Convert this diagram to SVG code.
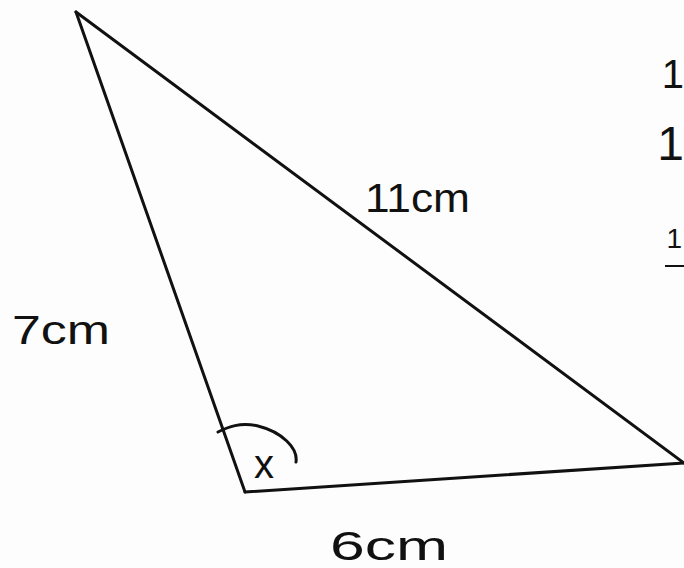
<svg xmlns="http://www.w3.org/2000/svg" width="684" height="568" viewBox="0 0 684 568">
<style>
.edge{fill:none;stroke:#111;stroke-width:3;stroke-linecap:round;stroke-linejoin:round}
.lbl{font-family:"Liberation Sans",sans-serif;fill:#111;font-size:40px}
.cut{font-family:"Liberation Sans",sans-serif;fill:#111;text-anchor:end}
</style>
<rect width="684" height="568" fill="#fdfdfd"/>
<g id="connectors">
<path class="edge" d="M76,12 L245,492"/>
<path class="edge" d="M76,12 L684,463"/>
<path class="edge" d="M245,492 L684,463" stroke-width="4"/>
<path class="edge" d="M218,432 C228,427 240,422 258,426 C282,432 298,448 296,462"/>
</g>
<g id="labels">
<text class="lbl" x="12" y="344" textLength="98" lengthAdjust="spacingAndGlyphs">7cm</text>
<text class="lbl" x="365" y="212" textLength="105" lengthAdjust="spacingAndGlyphs">11cm</text>
<text class="lbl" x="330" y="560" textLength="118" lengthAdjust="spacingAndGlyphs">6cm</text>
<text class="lbl" x="254" y="478" font-size="30">x</text>
<text class="cut" x="684" y="88" font-size="40">1</text>
<text class="cut" x="684" y="160" font-size="48">1</text>
<text class="cut" x="682" y="248" font-size="28">1</text>
<line x1="665" y1="266" x2="684" y2="266" stroke="#111" stroke-width="2"/>
</g>
</svg>
